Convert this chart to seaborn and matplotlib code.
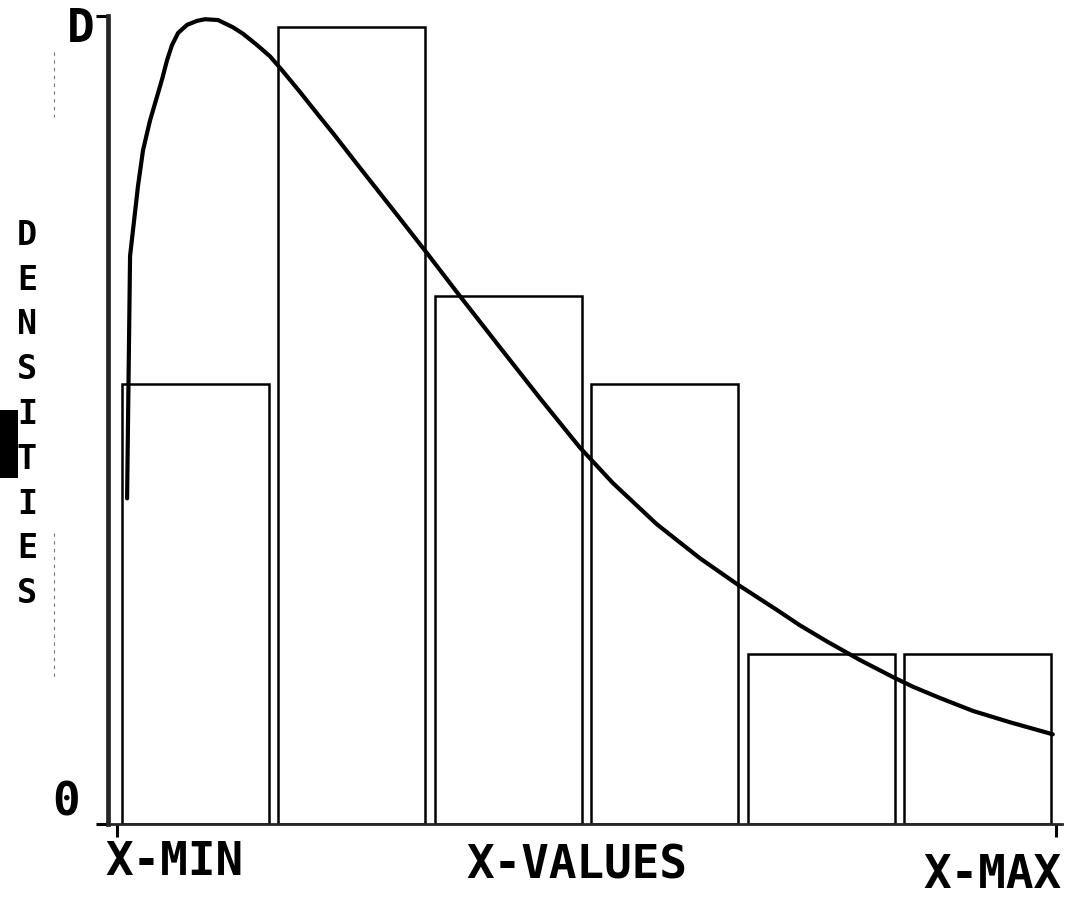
import matplotlib
matplotlib.use("Agg")
import matplotlib.pyplot as plt
from matplotlib.patches import Rectangle
from matplotlib.transforms import blended_transform_factory
import seaborn as sns

# ---- data (x in class-width units from X-MIN = 0 to X-MAX = 6, y as a fraction of D) ----
bin_edges = [0, 1, 2, 3, 4, 5, 6]
bar_density = [0.544, 0.987, 0.653, 0.544, 0.211, 0.211]

curve_x = [0.064, 0.083, 0.134, 0.166, 0.211, 0.249, 0.288, 0.319, 0.351, 0.390,
           0.447, 0.511, 0.562, 0.645, 0.741, 0.805, 0.895, 0.978, 1.054, 1.169,
           1.284, 1.380, 1.553, 1.789, 1.987, 2.173, 2.447, 2.703, 2.958, 3.169,
           3.450, 3.725, 3.962, 4.217, 4.364, 4.537, 4.748, 4.958, 5.086, 5.259,
           5.470, 5.706, 5.981]
curve_y = [0.403, 0.703, 0.790, 0.834, 0.871, 0.896, 0.922, 0.945, 0.964, 0.979,
           0.989, 0.994, 0.996, 0.995, 0.986, 0.978, 0.964, 0.950, 0.933, 0.906,
           0.878, 0.855, 0.812, 0.754, 0.705, 0.658, 0.590, 0.527, 0.466, 0.422,
           0.371, 0.329, 0.297, 0.265, 0.246, 0.226, 0.203, 0.182, 0.170, 0.156,
           0.140, 0.126, 0.111]

x_labels = ["X-MIN", "X-VALUES", "X-MAX"]
y_labels = ["0", "D"]
y_title = "DENSITIES"

# ---- style ----
sns.set_style("ticks")
plt.rcParams["font.family"] = ["DejaVu Sans Mono", "DejaVu Sans"]

W, H = 1068, 897
fig = plt.figure(figsize=(W / 100, H / 100), dpi=100)
fig.patch.set_facecolor("white")


def fx(px):
    return px / W


def fy(py):
    return 1 - py / H


ax = fig.add_axes([fx(108), fy(824), (1062 - 108) / W, (824 - 16) / H])
ax.set_facecolor("white")

centers = [(a + b) / 2 for a, b in zip(bin_edges[:-1], bin_edges[1:])]
sns.histplot(x=centers, weights=bar_density, bins=bin_edges, shrink=0.94,
             fill=False, color="black", linewidth=1.8, ax=ax)
sns.lineplot(x=curve_x, y=curve_y, color="black", linewidth=3.0, ax=ax)

ax.set_xlim(-0.058, 6.04)
ax.set_ylim(0, 1.0)
sns.despine(ax=ax)
ax.spines["left"].set_linewidth(3.4)
ax.spines["bottom"].set_linewidth(2.0)
ax.set_xticks([0, 6])
ax.set_yticks([0, 1])
ax.set_xticklabels([])
ax.set_yticklabels([])
ax.tick_params(axis="both", direction="out", length=9, width=2.2, color="black")
ax.set_xlabel("")
ax.set_ylabel("")

fs = 33
fw = "bold"
tx = blended_transform_factory(ax.transData, fig.transFigure)
ax.text(-0.077, fy(875), x_labels[0], transform=tx, ha="left", va="baseline",
        fontsize=fs, fontweight=fw, color="black")
ax.text(2.94, fy(878), x_labels[1], transform=tx, ha="center", va="baseline",
        fontsize=fs, fontweight=fw, color="black")
ax.text(6.04, fy(888), x_labels[2], transform=tx, ha="right", va="baseline",
        fontsize=fs, fontweight=fw, color="black")

# value labels on the density axis
fig.text(fx(81), fy(42), y_labels[1], ha="center", va="baseline", fontsize=fs,
         fontweight=fw, color="black")
fig.text(fx(66), fy(815), y_labels[0], ha="center", va="baseline", fontsize=fs,
         fontweight=fw, color="black")

# stacked axis title
for i, ch in enumerate(y_title):
    fig.text(fx(27), fy(245 + 44.75 * i), ch, ha="center", va="baseline",
             fontsize=24, fontweight=fw, color="black")

# solid marker block at the left margin
fig.patches.append(Rectangle((0, fy(478)), fx(18), 68 / H, transform=fig.transFigure,
                             facecolor="black", edgecolor="none"))
# faint guide marks in the margin
for y0, y1 in [(52, 117), (533, 680)]:
    fig.add_artist(plt.Line2D([fx(54), fx(54)], [fy(y0), fy(y1)], transform=fig.transFigure,
                              color="0.45", linewidth=0.8, linestyle=(0, (3, 4))))

fig.savefig("out.png", dpi=100, facecolor="white")
